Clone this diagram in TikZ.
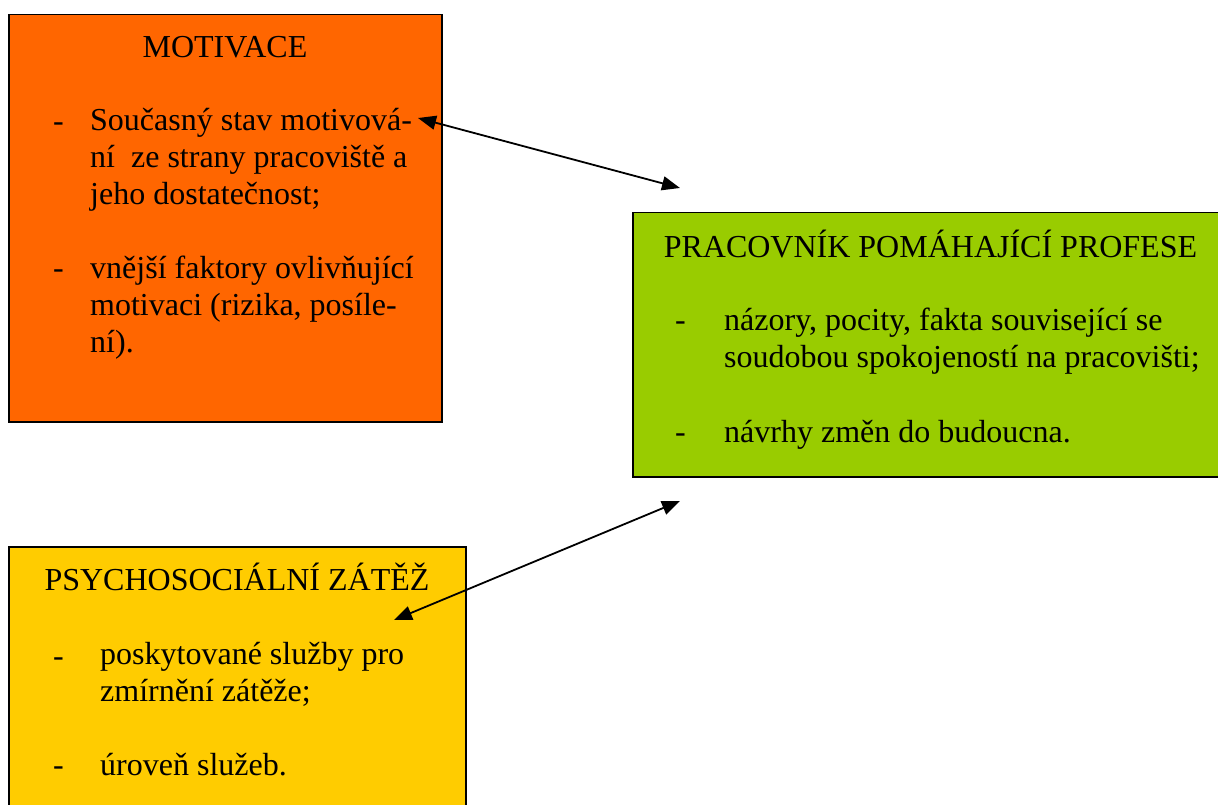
\documentclass[tikz,border=0pt]{standalone}
\usepackage{fontspec}
\setmainfont{Liberation Serif}
\usetikzlibrary{positioning}
\usetikzlibrary{arrows.meta}
\usetikzlibrary{calc}

\definecolor{motorange}{HTML}{FF6600}
\definecolor{progreen}{HTML}{99CC00}
\definecolor{zatyellow}{HTML}{FFCC00}

\begin{document}
\begin{tikzpicture}[
    x=1pt, y=-1pt,
    box/.style={rectangle, draw=black, line width=1.5pt, anchor=north west},
    ttl/.style={anchor=base, inner sep=0pt, font=\fontsize{32}{37}\selectfont},
    txt/.style={align=left, anchor=base west, inner sep=0pt, font=\fontsize{32}{37}\selectfont},
    link/.style={line width=1.8pt, {Triangle[length=18pt,width=14pt]}-{Triangle[length=18pt,width=14pt]}},
]
    \clip (0,0) rectangle (1218,805);

    \node[box, fill=motorange, minimum width=433pt, minimum height=407pt] (M0) at (8,14) {};
    \node[ttl] (M1) at ($(M0.north west)+(217,44)$) {MOTIVACE};
    \node[txt] (MD1) at ($(M0.north west)+(45,118)$) {-};
    \node[txt] (M2) at ($(M0.north west)+(82,191)$) {Současný stav motivová-\\ní\ \ ze strany pracoviště a\\jeho dostatečnost;};
    \node[txt] (MD2) at ($(M0.north west)+(45,264)$) {-};
    \node[txt] (M3) at ($(M0.north west)+(82,338)$) {vnější faktory ovlivňující\\motivaci (rizika, posíle-\\ní).};

    \node[box, fill=progreen, minimum width=590pt, minimum height=264pt] (P0) at (632,212) {};
    \node[ttl] (P1) at ($(P0.north west)+(298.5,45)$) {PRACOVNÍK POMÁHAJÍCÍ PROFESE};
    \node[txt] (PD1) at ($(P0.north west)+(43,118)$) {-};
    \node[txt] (P2) at ($(P0.north west)+(92,155)$) {názory, pocity, fakta související se\\soudobou spokojeností na pracovišti;};
    \node[txt] (PD2) at ($(P0.north west)+(43,230)$) {-};
    \node[txt] (P3) at ($(P0.north west)+(92,230)$) {návrhy změn do budoucna.};

    \node[box, fill=zatyellow, minimum width=457pt, minimum height=270pt] (Z0) at (8,546) {};
    \node[ttl] (Z1) at ($(Z0.north west)+(229,44)$) {PSYCHOSOCIÁLNÍ ZÁTĚŽ};
    \node[txt] (ZD1) at ($(Z0.north west)+(45,120)$) {-};
    \node[txt] (Z2) at ($(Z0.north west)+(92,155)$) {poskytované služby pro\\zmírnění zátěže;};
    \node[txt] (ZD2) at ($(Z0.north west)+(45,229)$) {-};
    \node[txt] (Z3) at ($(Z0.north west)+(92,229)$) {úroveň služeb.};

    \coordinate (A1) at (418,118);
    \coordinate (A2) at (680,188);
    \coordinate (A3) at (680,501);
    \coordinate (A4) at (394,620);

    \draw[link] (A1) -- (A2);
    \draw[link] (A3) -- (A4);

\end{tikzpicture}
\end{document}
